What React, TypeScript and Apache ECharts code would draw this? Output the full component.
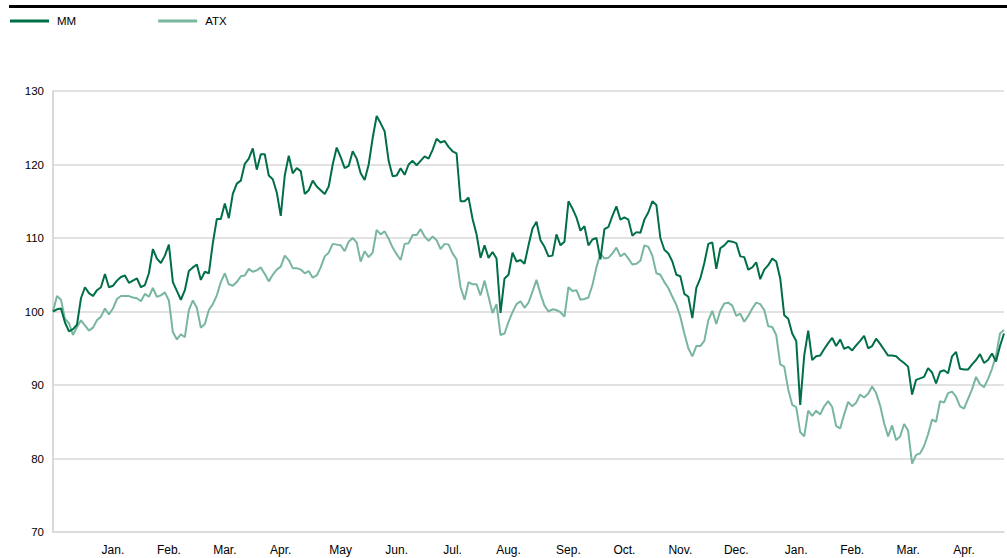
import React, { useEffect, useRef } from "react";
import * as echarts from "echarts";

// MM share price, indexed (one value per sampled trading day)
const mmValues: number[] = [
  100, 100.3, 100.4, 98.5, 97.3, 97.6, 98.2, 101.8, 103.3, 102.5,
  102.1, 102.9, 103.3, 105.1, 103.3, 103.5, 104.2, 104.7, 104.9, 103.9,
  104.2, 104.5, 103.3, 103.6, 105.2, 108.5, 107.2, 106.6, 107.6, 109.1,
  104, 102.8, 101.6, 102.9, 105.5, 106, 106.4, 104.3, 105.4, 105.2,
  109.3, 112.6, 112.6, 114.7, 112.7, 116, 117.4, 117.8, 120.1, 120.8,
  122.2, 119.3, 121.4, 121.4, 118.5, 118, 116.2, 113, 118.5, 121.2,
  118.8, 119.5, 119.1, 116, 116.5, 117.8, 117, 116.5, 116, 117,
  120, 122.3, 121, 119.5, 119.8, 121.8, 120.8, 118.8, 117.9, 120,
  123.6, 126.6, 125.6, 124.5, 120.5, 118.4, 118.5, 119.5, 118.6, 120,
  120.5, 119.9, 120.5, 121.1, 120.8, 122, 123.5, 123, 123.2, 122.4,
  121.8, 121.5, 115, 115, 115.5, 112.6, 110.5, 107.3, 109, 107.3,
  108.1, 107.2, 99.8, 104.5, 105, 108, 106.8, 107, 106.5, 109,
  111.3, 112.2, 109.7, 108.8, 107.5, 107.6, 110.5, 109, 109.5, 115,
  114, 112.8, 111, 111.6, 109, 109.8, 110, 107.1, 111.2, 111.5,
  113, 114.3, 112.5, 112.8, 112.5, 110.3, 110.8, 110.7, 112.5, 113.5,
  115, 114.5, 110, 108.4, 107.9, 106.8, 105, 104.8, 102.4, 102,
  99.1, 103.2, 104.5, 106.6, 109.2, 109.4, 105.8, 108.6, 109, 109.6,
  109.5, 109.3, 107.5, 107.4, 105.7, 106, 106.7, 104.4, 105.7, 106.3,
  107.2, 106.8, 104.5, 99.5, 99, 97, 96, 87.3, 94, 97.4,
  93.4, 93.9, 94, 94.9, 95.7, 96.4, 95.3, 96.2, 94.9, 95.2,
  94.7, 95.4, 96, 96.7, 95, 95.3, 96.3, 95.6, 94.8, 94,
  94, 93.9, 93.4, 93, 92.5, 88.7, 90.7, 90.9, 91.1, 92.3,
  91.7, 90.2, 91.8, 92, 91.6, 93.9, 94.5, 92.2, 92.1, 92.1,
  92.8, 93.4, 94.2, 93, 93.4, 94.3, 93.2, 95.3, 97,
];

// ATX index, indexed
const atxValues: number[] = [
  100, 102.1, 101.6, 99, 98.4, 96.8, 97.9, 98.8, 98.1, 97.4,
  97.8, 98.8, 99.3, 100.4, 99.6, 100.4, 101.7, 102.1, 102.1, 102.1,
  101.9, 101.8, 101.4, 102.4, 102, 103.2, 102, 102.2, 102.6, 101.5,
  97.2, 96.2, 96.9, 96.5, 100.2, 101.5, 100.5, 97.8, 98.3, 100.2,
  101, 102.2, 104, 105.2, 103.7, 103.5, 104, 104.8, 104.9, 105.8,
  105.4, 105.6, 106, 105.1, 104.1, 105, 105.7, 106.1, 107.6, 107,
  105.9, 105.9, 105.7, 105.2, 105.5, 104.6, 104.9, 106, 107.5, 108,
  109.2, 109.1, 109, 108.2, 109.5, 110, 109.4, 106.8, 108.2, 107.4,
  108, 111.1, 110.5, 110.9, 109.9, 108.7, 107.8, 107, 109.2, 109.3,
  110.4, 110.4, 111.2, 110.2, 109.6, 110.2, 109.7, 108.5, 109.2, 109.1,
  107.9, 107.1, 103.3, 101.6, 104, 103.7, 103.7, 102.2, 104.2, 102,
  99.8, 101, 96.8, 97, 98.6, 99.9, 101, 101.4, 100.5, 101.2,
  102.7, 104.3, 102.4, 100.8, 100, 100.3, 100.2, 99.9, 99.3, 103.3,
  102.8, 102.9, 101.6, 101.7, 101.9, 103.6, 106, 107.9, 107.2, 107.3,
  107.9, 108.7, 107.5, 107.9, 107.2, 106.4, 106.5, 106.9, 109, 108.8,
  107.6, 105.2, 105, 104, 103.2, 102, 100.9, 99.3, 97, 95,
  93.9, 95.3, 95.3, 96, 98.8, 100.1, 98.3, 100.1, 101.1, 101.2,
  100.8, 99.4, 99.7, 98.6, 99.4, 100.4, 101.2, 101, 100.2, 98,
  97.9, 96.8, 92.8, 92.5, 89.4, 87.3, 87, 83.6, 83, 86.5,
  85.8, 86.5, 86, 87.1, 87.8, 87, 84.4, 84.1, 86, 87.7,
  87.1, 87.6, 88.7, 88.3, 88.8, 89.8, 88.9, 87.2, 84.8, 83,
  84.5, 82.5, 83, 84.7, 83.8, 79.3, 80.5, 80.7, 81.7, 83.3,
  85.3, 85, 87.8, 87.6, 88.9, 89.1, 88.4, 87.1, 86.8, 88.1,
  89.4, 91.1, 90.1, 89.7, 90.8, 92.2, 94, 97, 97.5,
];

// Month tick labels and the sampled trading day each one sits on
const monthLabels: string[] = [
  "Jan.", "Feb.", "Mar.", "Apr.", "May", "Jun.", "Jul.", "Aug.",
  "Sep.", "Oct.", "Nov.", "Dec.", "Jan.", "Feb.", "Mar.", "Apr.",
];
const monthLabelDay: number[] = [
  15, 29, 43, 57, 72, 86, 100, 114, 129, 143, 157, 171, 186, 200, 214, 228,
];

const seriesNames = ["MM", "ATX"];
const yTicks = { min: 70, max: 130, interval: 10 };

export default function App() {
  const ref = useRef<HTMLDivElement>(null);

  useEffect(() => {
    document.body.style.margin = "0";
    if (!ref.current) return;
    const chart = echarts.init(ref.current, undefined, { renderer: "svg" });

    const categories: string[] = mmValues.map(() => "");
    monthLabelDay.forEach((d, k) => {
      categories[d] = monthLabels[k];
    });

    const font = "Liberation Sans, Arial, sans-serif";

    chart.setOption({
      animation: false,
      backgroundColor: "#ffffff",
      textStyle: { fontFamily: font },
      graphic: [
        {
          type: "line",
          shape: { x1: 9, y1: 6.5, x2: 1007, y2: 6.5 },
          style: { stroke: "#000000", lineWidth: 3 },
        },
      ],
      legend: {
        left: 10,
        top: 15,
        padding: 0,
        data: seriesNames,
        icon: "rect",
        itemWidth: 39,
        itemHeight: 3,
        itemGap: 82,
        textStyle: { fontSize: 11.5, color: "#000000", fontFamily: font, padding: [0, 0, 0, 3] },
      },
      grid: { left: 53, right: 0, top: 91, bottom: 26, containLabel: false },
      xAxis: {
        type: "category",
        data: categories,
        boundaryGap: false,
        axisLine: { show: true, lineStyle: { color: "#d9d9d9", width: 1.5 } },
        axisTick: { show: false },
        axisLabel: {
          interval: 0,
          fontSize: 12,
          color: "#000000",
          margin: 12,
          fontFamily: font,
        },
        splitLine: { show: false },
      },
      yAxis: {
        type: "value",
        min: yTicks.min,
        max: yTicks.max,
        interval: yTicks.interval,
        axisLine: { show: true, lineStyle: { color: "#d9d9d9", width: 2 } },
        axisTick: { show: false },
        axisLabel: { fontSize: 11.5, color: "#000000", margin: 9, fontFamily: font },
        splitLine: { show: true, lineStyle: { color: "#d9d9d9", width: 1.5 } },
      },
      series: [
        {
          name: "ATX",
          type: "line",
          data: atxValues,
          showSymbol: false,
          symbol: "none",
          lineStyle: { color: "#78b69e", width: 2 },
          itemStyle: { color: "#78b69e" },
          z: 2,
        },
        {
          name: "MM",
          type: "line",
          data: mmValues,
          showSymbol: false,
          symbol: "none",
          lineStyle: { color: "#006f45", width: 2 },
          itemStyle: { color: "#006f45" },
          z: 3,
        },
      ],
    });

    return () => {
      chart.dispose();
    };
  }, []);

  return <div ref={ref} style={{ width: 1007, height: 558 }} />;
}
